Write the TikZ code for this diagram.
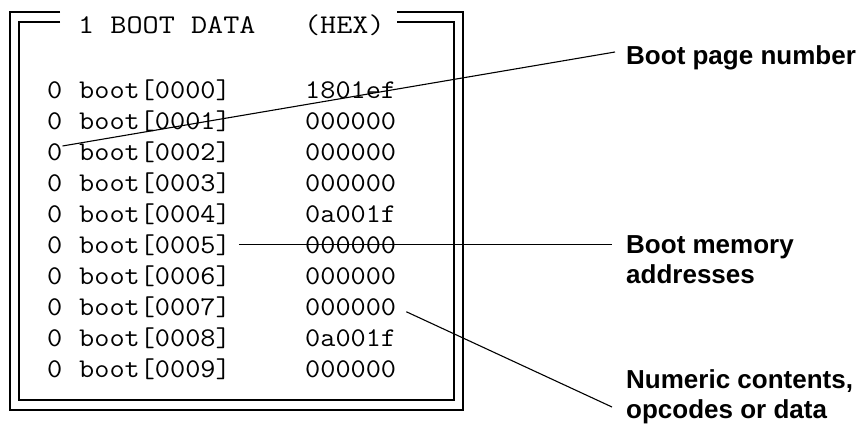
\documentclass[tikz,border=0pt]{standalone}
\usepackage{fontspec}
\usepackage{graphicx}
\usepackage{tikz}
\newfontfamily\lblfont{Liberation Sans}
\newcommand{\cellfont}{\ttfamily\fontsize{27}{30}\selectfont}
\newcommand{\cellwide}[2][1.09]{\scalebox{#1}[1]{#2}}

\tikzset{
  frame/.style={line width=1.4pt},
  leader/.style={line width=1.1pt},
  cell/.style={inner sep=0pt, anchor=base west, font=\cellfont},
  lbl/.style={inner sep=0pt, anchor=west, align=left, font=\lblfont\bfseries\fontsize{26}{30}\selectfont},
}

\begin{document}
\begin{tikzpicture}[x=1pt,y=-1pt]
\useasboundingbox (0,0) rectangle (862,447);

%Shape: double frame, open at the top for the title
\draw[frame] (60,12) -- (10,12) -- (10,410) -- (463,410) -- (463,12) -- (397,12);
\draw[frame] (60,22) -- (19,22) -- (19,400) -- (454,400) -- (454,22) -- (397,22);

% Text Node
\node[cell] (title) at (78,33) {\cellwide[1.16]{1~BOOT~DATA~~~(HEX)}};

% Text Nodes: the rows of the dump
\foreach \i/\v in {0/1801ef,1/000000,2/000000,3/000000,4/0a001f,5/000000,6/000000,7/000000,8/0a001f,9/000000}{
  \node[cell] (pg\i) at (47,{98+31*\i}) {\cellwide{0}};
  \node[cell] (adr\i) at (79,{98+31*\i}) {\cellwide{boot[000\i]}};
  \node[cell] (val\i) at (305,{98+31*\i}) {\cellwide{\v}};
}

% Text Node
\node[lbl] (pbn) at (626,58) {Boot page number};
% Text Node
\node[lbl] (mem) at (626,260) {Boot memory\\addresses};
% Text Node
\node[lbl] (num) at (626,397) {Numeric contents,\\opcodes or data};

%Straight Lines
\draw[leader] ([yshift=-3pt]pg2.north east) -- ([xshift=-11pt,yshift=6pt]pbn.west);
%Straight Lines
\draw[leader] ([xshift=8pt]adr5.east) -- ([xshift=-14pt]adr5.east -| mem.west);
%Straight Lines
\draw[leader] ([xshift=10pt,yshift=-5pt]val7.east) -- ([xshift=-14pt,yshift=-10pt]num.west);

\end{tikzpicture}
\end{document}
